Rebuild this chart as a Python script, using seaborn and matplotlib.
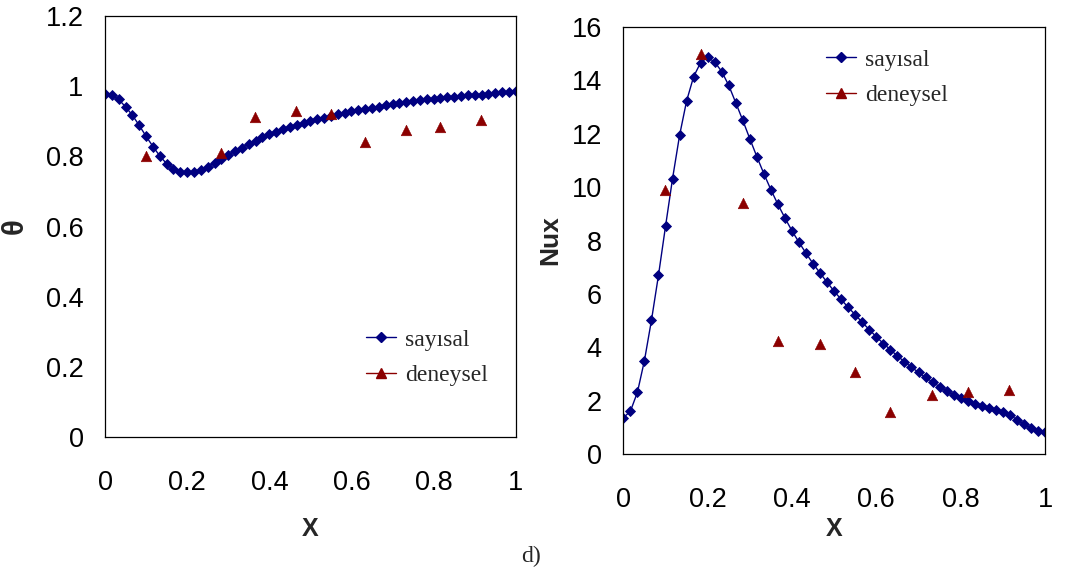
import numpy as np
import pandas as pd
import matplotlib
matplotlib.use("Agg")
import matplotlib.pyplot as plt
from matplotlib.lines import Line2D
import seaborn as sns

# ---------------- data ----------------
x_num = [i / 60 for i in range(61)]

theta_num = [0.978, 0.974, 0.962, 0.941, 0.917, 0.888, 0.857, 0.828, 0.801, 0.779,
             0.765, 0.756, 0.754, 0.755, 0.761, 0.770, 0.781, 0.792, 0.804, 0.815,
             0.825, 0.835, 0.845, 0.854, 0.863, 0.870, 0.877, 0.884, 0.889, 0.895,
             0.901, 0.905, 0.910, 0.915, 0.920, 0.924, 0.928, 0.932, 0.936, 0.939,
             0.942, 0.946, 0.949, 0.952, 0.955, 0.957, 0.960, 0.962, 0.964, 0.966,
             0.968, 0.970, 0.972, 0.974, 0.975, 0.976, 0.978, 0.980, 0.982, 0.984,
             0.986]

theta_exp_x = [0.099, 0.282, 0.366, 0.466, 0.550, 0.633, 0.733, 0.816, 0.916]
theta_exp = [0.800, 0.810, 0.911, 0.929, 0.920, 0.841, 0.875, 0.885, 0.904]

nu_num = [1.36, 1.60, 2.31, 3.50, 5.01, 6.70, 8.53, 10.32, 11.94, 13.23,
          14.14, 14.67, 14.86, 14.69, 14.33, 13.81, 13.16, 12.50, 11.81, 11.14,
          10.50, 9.90, 9.35, 8.84, 8.36, 7.93, 7.52, 7.13, 6.78, 6.43,
          6.10, 5.79, 5.49, 5.22, 4.93, 4.66, 4.39, 4.14, 3.91, 3.67,
          3.46, 3.25, 3.06, 2.87, 2.70, 2.52, 2.37, 2.21, 2.08, 1.97,
          1.87, 1.79, 1.72, 1.66, 1.57, 1.46, 1.29, 1.11, 0.97, 0.87,
          0.82]

nu_exp_x = [0.099, 0.183, 0.283, 0.366, 0.466, 0.549, 0.632, 0.733, 0.817, 0.915]
nu_exp = [9.91, 15.00, 9.39, 4.23, 4.11, 3.08, 1.56, 2.21, 2.31, 2.40]

x_ticks = [0, 0.2, 0.4, 0.6, 0.8, 1.0]
x_ticklabels = ["0", "0.2", "0.4", "0.6", "0.8", "1"]
theta_ticks = [0, 0.2, 0.4, 0.6, 0.8, 1.0, 1.2]
theta_ticklabels = ["0", "0.2", "0.4", "0.6", "0.8", "1", "1.2"]
nu_ticks = [0, 2, 4, 6, 8, 10, 12, 14, 16]
nu_ticklabels = ["0", "2", "4", "6", "8", "10", "12", "14", "16"]

labels = ["sayısal", "deneysel"]

# ---------------- style ----------------
sns.set_style("white")
plt.rcParams["font.family"] = ["Liberation Sans", "DejaVu Sans"]

BLUE = "#000080"
RED = "#8B0000"

fig = plt.figure(figsize=(10.74, 5.81), dpi=100)
axL = fig.add_axes([0.0978, 0.2478, 0.3824, 0.7247])
axR = fig.add_axes([0.5804, 0.2186, 0.3926, 0.7349])

df_theta = pd.DataFrame({"x": x_num, "y": theta_num})
df_theta_e = pd.DataFrame({"x": theta_exp_x, "y": theta_exp})
df_nu = pd.DataFrame({"x": x_num, "y": nu_num})
df_nu_e = pd.DataFrame({"x": nu_exp_x, "y": nu_exp})


def draw(ax, dnum, dexp, yticks, yticklabels, ylabel, ylsize, ylabel_x, xlabel_y, legpos):
    sns.lineplot(data=dnum, x="x", y="y", ax=ax, color=BLUE, lw=1.0,
                 marker="D", markersize=5.2, markeredgewidth=0.6,
                 markeredgecolor=BLUE, markerfacecolor=BLUE, legend=False)
    sns.scatterplot(data=dexp, x="x", y="y", ax=ax, color=RED, marker="^",
                    s=58, edgecolor=RED, linewidth=0.4, legend=False, zorder=3)
    ax.set_xlim(0, 1)
    ax.set_ylim(yticks[0], yticks[-1])
    ax.set_xticks(x_ticks)
    ax.set_xticklabels(x_ticklabels)
    ax.set_yticks(yticks)
    ax.set_yticklabels(yticklabels)
    ax.tick_params(axis="both", direction="out", length=6.5, width=0.9,
                   color="#444444", labelsize=19.5, labelcolor="black")
    ax.tick_params(axis="x", pad=17)
    ax.tick_params(axis="y", pad=9)
    for s in ax.spines.values():
        s.set_visible(True)
        s.set_color("black")
        s.set_linewidth(0.9)
    ax.set_xlabel("X", fontsize=18, fontweight="bold")
    ax.set_ylabel(ylabel, fontsize=ylsize, fontweight="bold")
    ax.xaxis.set_label_coords(0.5, xlabel_y)
    ax.yaxis.set_label_coords(ylabel_x, 0.5)
    handles = [
        Line2D([], [], color=BLUE, lw=1.0, marker="D", markersize=5.2),
        Line2D([], [], color=RED, lw=1.0, marker="^", markersize=7.5),
    ]
    ax.legend(handles, labels, loc="upper left", bbox_to_anchor=legpos,
              frameon=False, borderpad=0, borderaxespad=0,
              handlelength=1.25, handletextpad=0.4, labelspacing=0.6,
              prop={"family": "Liberation Serif", "size": 17})


draw(axL, df_theta, df_theta_e, theta_ticks, theta_ticklabels, "θ", 21,
     -0.185, -0.19, (0.6355, 0.2565))
draw(axR, df_nu, df_nu_e, nu_ticks, nu_ticklabels, "Nux", 19,
     -0.145, -0.1475, (0.4807, 0.9485))

fig.text(0.494, 0.043, "d)", family="Liberation Serif", fontsize=17,
         ha="center", va="center")

fig.savefig("out.png", dpi=100)
